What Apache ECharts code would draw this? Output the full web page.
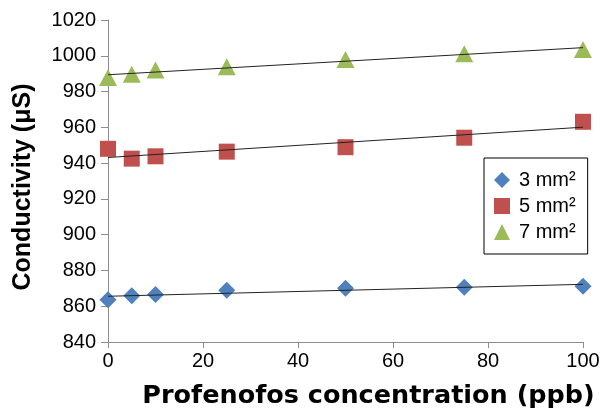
<!DOCTYPE html>
<html><head><meta charset="utf-8">
<script src="https://cdn.jsdelivr.net/npm/echarts@6/dist/echarts.min.js"></script>
<style>html,body{margin:0;padding:0;background:#fff}#c{width:605px;height:414px}</style>
</head><body><div id="c"></div>
<script>
const xValues = [0, 5, 10, 25, 50, 75, 100];
const s3mm = [863.6, 865.8, 866.5, 868.9, 870.1, 870.6, 871.2];
const s5mm = [948, 942.5, 943.8, 946.4, 948.9, 954.2, 963.1];
const s7mm = [987.8, 989.7, 992, 993.8, 997.9, 1001.2, 1003.5];
const seriesNames = ['3 mm²', '5 mm²', '7 mm²'];
const colors = ['#4F81BD', '#C0504D', '#9BBB59'];
const symbols = ['diamond', 'rect', 'triangle'];
const symbolSizes = [[17, 17], [16, 16], [18, 17]];

function fit(ys) {
  const n = xValues.length;
  const mx = xValues.reduce((a, b) => a + b, 0) / n;
  const my = ys.reduce((a, b) => a + b, 0) / n;
  let sxy = 0, sxx = 0;
  for (let i = 0; i < n; i++) { sxy += (xValues[i] - mx) * (ys[i] - my); sxx += (xValues[i] - mx) ** 2; }
  const b = sxy / sxx, a = my - b * mx;
  const x0 = xValues[0], x1 = xValues[n - 1];
  return [[x0, a + b * x0], [x1, a + b * x1]];
}

const all = [s3mm, s5mm, s7mm];
const series = [];
all.forEach((ys, i) => {
  series.push({
    name: seriesNames[i] + ' trend', type: 'line', data: fit(ys), symbol: 'none',
    lineStyle: { color: '#222', width: 1 }, z: 3, silent: true
  });
});
all.forEach((ys, i) => {
  series.push({
    name: seriesNames[i], type: 'scatter', symbol: symbols[i], symbolSize: symbolSizes[i],
    itemStyle: { color: colors[i], opacity: 1 }, z: 2,
    data: xValues.map((x, j) => [x, ys[j]])
  });
});

const chart = echarts.init(document.getElementById('c'), null, { renderer: 'canvas' });
const axisColor = '#8c8c8c';
const font = 'Liberation Sans, Arial';
chart.setOption({
  animation: false,
  grid: { left: 108, right: 22, top: 20, bottom: 71 },
  legend: {
    data: seriesNames, orient: 'vertical', left: 484, top: 158,
    borderColor: '#000', borderWidth: 1, padding: [12, 12, 12, 10],
    itemGap: 6, itemWidth: 16, itemHeight: 16,
    textStyle: { fontFamily: font, fontSize: 20, color: '#000', padding: [0, 0, 0, 4] }
  },
  xAxis: {
    type: 'value', min: 0, max: 100, interval: 20,
    name: 'Profenofos concentration (ppb)', nameLocation: 'middle', nameGap: 41,
    nameTextStyle: { fontFamily: 'DejaVu Sans', fontSize: 25.5, fontWeight: 'bold', color: '#000', padding: [0, 0, 0, 46] },
    axisLine: { show: true, lineStyle: { color: axisColor, width: 1 } },
    axisTick: { show: true, length: 6, lineStyle: { color: axisColor } },
    axisLabel: { fontFamily: font, fontSize: 20, color: '#000', margin: 9 },
    splitLine: { show: false }
  },
  yAxis: {
    type: 'value', min: 840, max: 1020, interval: 20,
    name: 'Conductivity (μS)', nameLocation: 'middle', nameGap: 72,
    nameTextStyle: { fontFamily: font, fontSize: 25, fontWeight: 'bold', color: '#000', padding: [0, 12, 0, 0] },
    axisLine: { show: true, lineStyle: { color: axisColor, width: 1 } },
    axisTick: { show: true, length: 7, lineStyle: { color: axisColor } },
    axisLabel: { fontFamily: font, fontSize: 20, color: '#000', margin: 12, formatter: v => String(v) },
    splitLine: { show: false }
  },
  series: series
});
</script></body></html>
